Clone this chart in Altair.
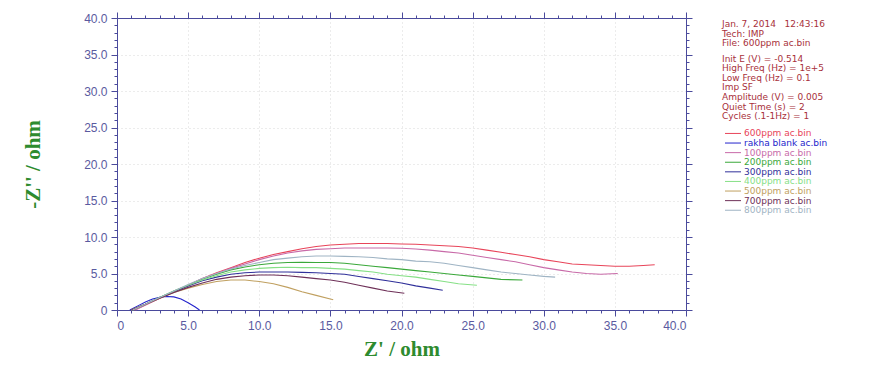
import altair as alt
import pandas as pd

# ---------------- data ----------------
series_names = ["600ppm ac.bin", "rakha blank ac.bin", "100ppm ac.bin", "200ppm ac.bin",
                "300ppm ac.bin", "400ppm ac.bin", "500ppm ac.bin", "700ppm ac.bin", "800ppm ac.bin"]
series_colors = ["#e8455a", "#2424cc", "#c86aa8", "#3aa83a", "#30309a",
                 "#86e086", "#c0a060", "#6e3058", "#9fb4c4"]

x_600 = [1.2, 2, 3, 4, 5, 6, 7, 8, 9, 10, 11, 12, 13, 14, 15, 16, 17, 18, 19, 20, 21, 22, 23, 24, 25,
         26, 27, 28, 29, 30, 31, 32, 33, 34, 35, 36, 37, 37.8]
y_600 = [0, 0.7, 1.6, 2.5, 3.4, 4.3, 5.1, 5.8, 6.5, 7.1, 7.6, 8.0, 8.4, 8.7, 8.9, 9.0, 9.1, 9.1, 9.1,
         9.05, 9.0, 8.9, 8.8, 8.7, 8.5, 8.2, 7.9, 7.6, 7.3, 6.9, 6.6, 6.3, 6.2, 6.1, 6.0, 6.0, 6.1, 6.2]

x_blank = [0.9, 1.5, 2, 2.5, 3, 3.5, 4, 4.5, 5, 5.5, 5.8]
y_blank = [0, 0.6, 1.1, 1.5, 1.75, 1.85, 1.8, 1.5, 1.0, 0.4, 0]

x_100 = [1.3, 2, 3, 4, 5, 6, 7, 8, 9, 10, 11, 12, 13, 14, 15, 16, 17, 18, 19, 20, 21, 22, 23, 24,
         25, 26, 27, 28, 29, 30, 31, 32, 33, 34, 35.2]
y_100 = [0, 0.7, 1.6, 2.5, 3.4, 4.3, 5.0, 5.7, 6.3, 6.9, 7.4, 7.8, 8.1, 8.3, 8.4, 8.5, 8.5, 8.5, 8.5,
         8.45, 8.35, 8.2, 8.0, 7.8, 7.5, 7.2, 6.9, 6.6, 6.2, 5.8, 5.5, 5.2, 5.0, 4.9, 5.0]

x_200 = [1.1, 2, 3, 4, 5, 6, 7, 8, 9, 10, 11, 12, 13, 14, 15, 16, 17, 18, 19, 20, 21, 22, 23, 24,
         25, 26, 27, 28.5]
y_200 = [0, 0.8, 1.7, 2.6, 3.4, 4.2, 4.9, 5.5, 5.9, 6.2, 6.4, 6.5, 6.55, 6.5, 6.5, 6.4, 6.2, 6.0,
         5.8, 5.6, 5.4, 5.2, 5.0, 4.8, 4.6, 4.4, 4.2, 4.1]

x_300 = [1.0, 2, 3, 4, 5, 6, 7, 8, 9, 10, 11, 12, 13, 14, 15, 16, 17, 18, 19, 20, 21, 22, 22.9]
y_300 = [0, 0.8, 1.7, 2.5, 3.3, 4.0, 4.5, 4.9, 5.1, 5.2, 5.2, 5.2, 5.15, 5.1, 5.0, 4.9, 4.6, 4.3,
         4.0, 3.7, 3.3, 3.0, 2.7]

x_400 = [1.0, 2, 3, 4, 5, 6, 7, 8, 9, 10, 11, 12, 13, 14, 15, 16, 17, 18, 19, 20, 21, 22, 23, 24, 25.3]
y_400 = [0, 0.8, 1.7, 2.6, 3.4, 4.1, 4.7, 5.2, 5.5, 5.7, 5.8, 5.85, 5.8, 5.8, 5.7, 5.6, 5.4, 5.2,
         4.9, 4.7, 4.5, 4.2, 3.9, 3.6, 3.4]

x_500 = [1.0, 2, 3, 4, 5, 6, 7, 8, 9, 10, 11, 12, 13, 14, 15.2]
y_500 = [0, 0.8, 1.6, 2.4, 3.0, 3.5, 3.9, 4.1, 4.1, 3.9, 3.6, 3.1, 2.5, 2.0, 1.4]

x_700 = [1.0, 2, 3, 4, 5, 6, 7, 8, 9, 10, 11, 12, 13, 14, 15, 16, 17, 18, 19, 20.2]
y_700 = [0, 0.8, 1.6, 2.4, 3.1, 3.7, 4.2, 4.5, 4.7, 4.8, 4.8, 4.7, 4.5, 4.3, 4.1, 3.8, 3.4, 3.0,
         2.6, 2.3]

x_800 = [1.1, 2, 3, 4, 5, 6, 7, 8, 9, 10, 11, 12, 13, 14, 15, 16, 17, 18, 19, 20, 21, 22, 23, 24,
         25, 26, 27, 28, 29, 30, 30.8]
y_800 = [0, 0.8, 1.7, 2.6, 3.5, 4.3, 5.0, 5.6, 6.1, 6.5, 6.9, 7.1, 7.3, 7.4, 7.4, 7.35, 7.3, 7.2,
         7.0, 6.9, 6.7, 6.6, 6.4, 6.1, 5.8, 5.5, 5.2, 5.0, 4.8, 4.6, 4.5]

NB = "\u00a0"
header_lines = ["Jan. 7, 2014" + NB * 3 + "12:43:16", "Tech: IMP", "File: 600ppm ac.bin",
                "Init E (V) = -0.514", "High Freq (Hz) = 1e+5", "Low Freq (Hz) = 0.1", "Imp SF",
                "Amplitude (V) = 0.005", "Quiet Time (s) = 2", "Cycles (.1-1Hz) = 1"]

x_title = "Z' / ohm"
y_title = "-Z'' / ohm"

# ---------------- build tables ----------------
all_x = [x_600, x_blank, x_100, x_200, x_300, x_400, x_500, x_700, x_800]
all_y = [y_600, y_blank, y_100, y_200, y_300, y_400, y_500, y_700, y_800]
rows = []
for name, xs, ys in zip(series_names, all_x, all_y):
    for i, (a, b) in enumerate(zip(xs, ys)):
        rows.append({"series": name, "x": a, "y": b, "order": i})
df = pd.DataFrame(rows)

# header rows: small gap after the third line
hdr_rows = []
for i, t in enumerate(header_lines):
    r = i if i < 3 else i + 0.6
    hdr_rows.append({"text": t, "row": r})
hdr_df = pd.DataFrame(hdr_rows)
leg_df = pd.DataFrame({"series": series_names,
                       "row": [len(header_lines) + 1.4 + i for i in range(len(series_names))]})

PLOT_W, PLOT_H = 569, 292
axis_col = "#4a4a9c"
label_col = "#5a5aa0"
major = "datum.value % 5 === 0"
lab_expr = "datum.value % 5 === 0 ? (datum.value === 0 ? '0' : format(datum.value, '.1f')) : ''"
vals = list(range(0, 41))
tsize = {"condition": {"test": major, "value": 6}, "value": 3}
gop = {"condition": {"test": major, "value": 0.8}, "value": 0}

color_scale = alt.Scale(domain=series_names, range=series_colors)

xscale = alt.Scale(domain=[0, 40], nice=False, zero=False)
yscale = alt.Scale(domain=[0, 40], nice=False, zero=False)

lines = alt.Chart(df).mark_line(strokeWidth=1.1).encode(
    x=alt.X("x:Q", scale=xscale,
            axis=alt.Axis(orient="bottom", values=vals, labelExpr=lab_expr, tickSize=tsize,
                          labelPadding=4, labelFont="Liberation Sans", labelFontSize=12,
                          labelColor=label_col, domainColor=axis_col, tickColor=axis_col,
                          grid=True, gridColor="#cfcfcf", gridDash=[1, 3], gridOpacity=gop,
                          title=x_title, titleFont="Liberation Serif", titleFontSize=21,
                          titleFontWeight="bold", titleColor="#2e8b2e",
                          titleX=PLOT_W / 2, titleY=39, titleBaseline="middle",
                          titleAlign="center")),
    y=alt.Y("y:Q", scale=yscale,
            axis=alt.Axis(orient="left", values=vals, labelExpr=lab_expr, tickSize=tsize,
                          labelPadding=4, labelFont="Liberation Sans", labelFontSize=12,
                          labelColor=label_col, domainColor=axis_col, tickColor=axis_col,
                          grid=True, gridColor="#cfcfcf", gridDash=[1, 3], gridOpacity=gop,
                          title=y_title, titleFont="Liberation Serif", titleFontSize=21,
                          titleFontWeight="bold", titleColor="#2e8b2e",
                          titleX=-84, titleY=PLOT_H / 2, titleAngle=270,
                          titleBaseline="middle", titleAlign="center")),
    color=alt.Color("series:N", scale=color_scale, legend=None),
    order="order:Q",
    detail="series:N",
)

frame = alt.Chart(df).mark_line(strokeOpacity=0).encode(
    x=alt.X("x:Q", scale=xscale,
            axis=alt.Axis(orient="top", values=vals, labels=False, tickSize=tsize,
                          domainColor=axis_col, tickColor=axis_col, grid=False, title=None)),
    y=alt.Y("y:Q", scale=yscale,
            axis=alt.Axis(orient="right", values=vals, labels=False, tickSize=tsize,
                          domainColor=axis_col, tickColor=axis_col, grid=False, title=None)),
    detail="series:N",
)

row_scale = alt.Scale(domain=[0, 20], range=[6, 6 + 20 * 9.6])

header = alt.Chart(hdr_df).mark_text(align="left", baseline="middle", font="DejaVu Sans",
                                     fontSize=9, color="#a8303a").encode(
    x=alt.value(605),
    y=alt.Y("row:Q", scale=row_scale, axis=None),
    text="text:N",
)

leg_lines = alt.Chart(leg_df).mark_rule(strokeWidth=1).encode(
    x=alt.value(608), x2=alt.value(624),
    y=alt.Y("row:Q", scale=row_scale, axis=None),
    color=alt.Color("series:N", scale=color_scale, legend=None),
)
leg_text = alt.Chart(leg_df).mark_text(align="left", baseline="middle", font="DejaVu Sans",
                                       fontSize=9).encode(
    x=alt.value(627),
    y=alt.Y("row:Q", scale=row_scale, axis=None),
    text="series:N",
    color=alt.Color("series:N", scale=color_scale, legend=None),
)

chart = alt.layer(lines, frame, header, leg_lines, leg_text).resolve_scale(
    y="independent"
).resolve_axis(x="independent", y="independent").properties(
    width=PLOT_W, height=PLOT_H,
    autosize=alt.AutoSizeParams(type="none"),
    padding={"left": 117, "top": 18, "right": 885 - 117 - PLOT_W, "bottom": 369 - 18 - PLOT_H},
    background="white",
).configure_view(stroke=None)

chart.save("out.html", embed_options={"renderer": "svg", "actions": False})
